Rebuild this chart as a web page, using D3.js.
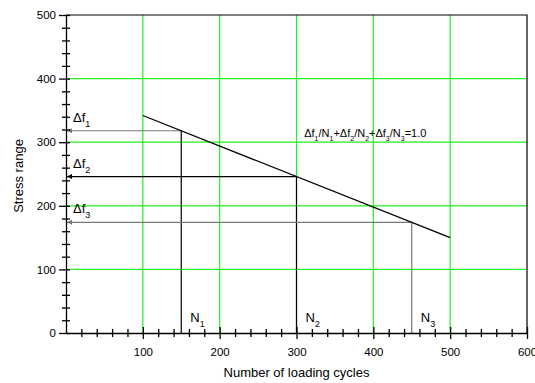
<!DOCTYPE html>
<html>
<head>
<meta charset="utf-8">
<script src="https://cdn.jsdelivr.net/npm/d3@7"></script>
<style>
  html, body { margin: 0; padding: 0; background: #fff; }
  svg { display: block; font-family: "Liberation Sans", Arial, sans-serif; }
</style>
</head>
<body>
<div id="chart"></div>
<script>
// S-N curve with three stress levels and their cycle counts
const xTicks = [100, 200, 300, 400, 500, 600];
const yTicks = [0, 100, 200, 300, 400, 500];
const gridX = [100, 200, 300, 400, 500];
const gridY = [100, 200, 300, 400];
const snCycles = [100, 500];
const snStress = [342, 150];
const levelCycles = [150, 300, 450];
const levelStress = [318, 246, 174];
const levelNames = ["1", "2", "3"];
const levelShade = ["#777", "#000", "#777"];   // horizontal leaders
const dropShade = ["#000", "#000", "#777"];    // vertical leaders

const W = 535, H = 383;
const m = { left: 66, right: 8, top: 15, bottom: 50 };

const svg = d3.select("#chart").append("svg").attr("width", W).attr("height", H);

const x = d3.scaleLinear().domain([0, 600]).range([m.left, W - m.right]);
const y = d3.scaleLinear().domain([0, 500]).range([H - m.bottom, m.top]);

const defs = svg.append("defs");
defs.append("marker").attr("id", "arr").attr("viewBox", "0 0 10 10")
  .attr("refX", 10).attr("refY", 5).attr("markerWidth", 7).attr("markerHeight", 5)
  .attr("orient", "auto-start-reverse").attr("markerUnits", "userSpaceOnUse")
  .append("path").attr("d", "M0,0L10,5L0,10z").attr("fill", "context-stroke");

// grid
const grid = svg.append("g").attr("stroke", "#22f022").attr("stroke-width", 1.2);
grid.selectAll("line.gx").data(gridX).enter().append("line")
  .attr("x1", d => x(d)).attr("x2", d => x(d)).attr("y1", y(0)).attr("y2", y(500));
grid.selectAll("line.gy").data(gridY).enter().append("line")
  .attr("y1", d => y(d)).attr("y2", d => y(d)).attr("x1", x(0)).attr("x2", x(600));

// frame top/right
svg.append("path")
  .attr("d", `M${x(0)},${y(500)}H${x(600)}V${y(0)}`)
  .attr("fill", "none").attr("stroke", "#000").attr("stroke-width", 1.2);

// level leaders
levelCycles.forEach((c, i) => {
  svg.append("line")
    .attr("x1", x(c)).attr("x2", x(0) + 1).attr("y1", y(levelStress[i])).attr("y2", y(levelStress[i]))
    .attr("stroke", levelShade[i]).attr("stroke-width", 1.2).attr("marker-end", "url(#arr)");
  svg.append("line")
    .attr("x1", x(c)).attr("x2", x(c)).attr("y1", y(levelStress[i])).attr("y2", y(0))
    .attr("stroke", dropShade[i]).attr("stroke-width", 1.2);
});

// S-N line
svg.append("path")
  .datum(snCycles.map((c, i) => [c, snStress[i]]))
  .attr("d", d3.line().x(d => x(d[0])).y(d => y(d[1])))
  .attr("fill", "none").attr("stroke", "#000").attr("stroke-width", 1.3);

// axes
const xMinor = d3.range(20, 600, 20).filter(v => v % 100 !== 0);
const yMinor = d3.range(20, 500, 20).filter(v => v % 100 !== 0);

const xAxis = svg.append("g").attr("transform", `translate(0,${y(0)})`)
  .call(d3.axisBottom(x).tickValues(xTicks).tickSize(6).tickPadding(9).tickSizeOuter(0));
xAxis.selectAll(".tick line").attr("y1", -6);
const xMin = svg.append("g").attr("transform", `translate(0,${y(0)})`)
  .call(d3.axisBottom(x).tickValues(xMinor).tickSize(4).tickFormat("").tickSizeOuter(0));
xMin.selectAll(".tick line").attr("y1", -4);
xMin.select(".domain").remove();

const yAxis = svg.append("g").attr("transform", `translate(${x(0)},0)`)
  .call(d3.axisLeft(y).tickValues(yTicks).tickSize(7).tickPadding(3).tickSizeOuter(0));
yAxis.selectAll(".tick line").attr("x1", 4);
const yMin = svg.append("g").attr("transform", `translate(${x(0)},0)`)
  .call(d3.axisLeft(y).tickValues(yMinor).tickSize(4).tickFormat("").tickSizeOuter(0));
yMin.selectAll(".tick line").attr("x1", 4);
yMin.select(".domain").remove();

[xAxis, yAxis, xMin, yMin].forEach(g => {
  g.selectAll("line, path").attr("stroke", "#000").attr("stroke-width", 1.3);
  g.selectAll("text").attr("font-size", 11.5).attr("font-family", "Liberation Sans, Arial, sans-serif").attr("fill", "#000");
});

// axis titles
svg.append("text").attr("x", x(300)).attr("y", 377).attr("text-anchor", "middle")
  .attr("font-size", 13).text("Number of loading cycles");
svg.append("text").attr("transform", `translate(23,${y(250) + 2}) rotate(-90)`)
  .attr("text-anchor", "middle").attr("font-size", 13).text("Stress range");

// Δf labels
const dfY = [122, 168, 213];
levelNames.forEach((n, i) => {
  const t = svg.append("text").attr("x", 73).attr("y", dfY[i]).attr("font-size", 13);
  t.append("tspan").text("\u0394f");
  t.append("tspan").attr("dy", 5).attr("font-size", 9).text(n);
});

// N labels
levelCycles.forEach((c, i) => {
  const t = svg.append("text").attr("x", x(c) + 9).attr("y", 322).attr("font-size", 13);
  t.append("tspan").text("N");
  t.append("tspan").attr("dy", 5).attr("font-size", 9).text(levelNames[i]);
});

// Miner's rule
const eq = svg.append("text").attr("x", x(310)).attr("y", 137).attr("font-size", 11);
levelNames.forEach((n, i) => {
  eq.append("tspan").attr("dy", i === 0 ? 0 : -4).text((i ? "+" : "") + "\u0394f");
  eq.append("tspan").attr("dy", 4).attr("font-size", 7).text(n);
  eq.append("tspan").attr("dy", -4).text("/N");
  eq.append("tspan").attr("dy", 4).attr("font-size", 7).text(n);
});
eq.append("tspan").attr("dy", -4).text("=1.0");
</script>
</body>
</html>
